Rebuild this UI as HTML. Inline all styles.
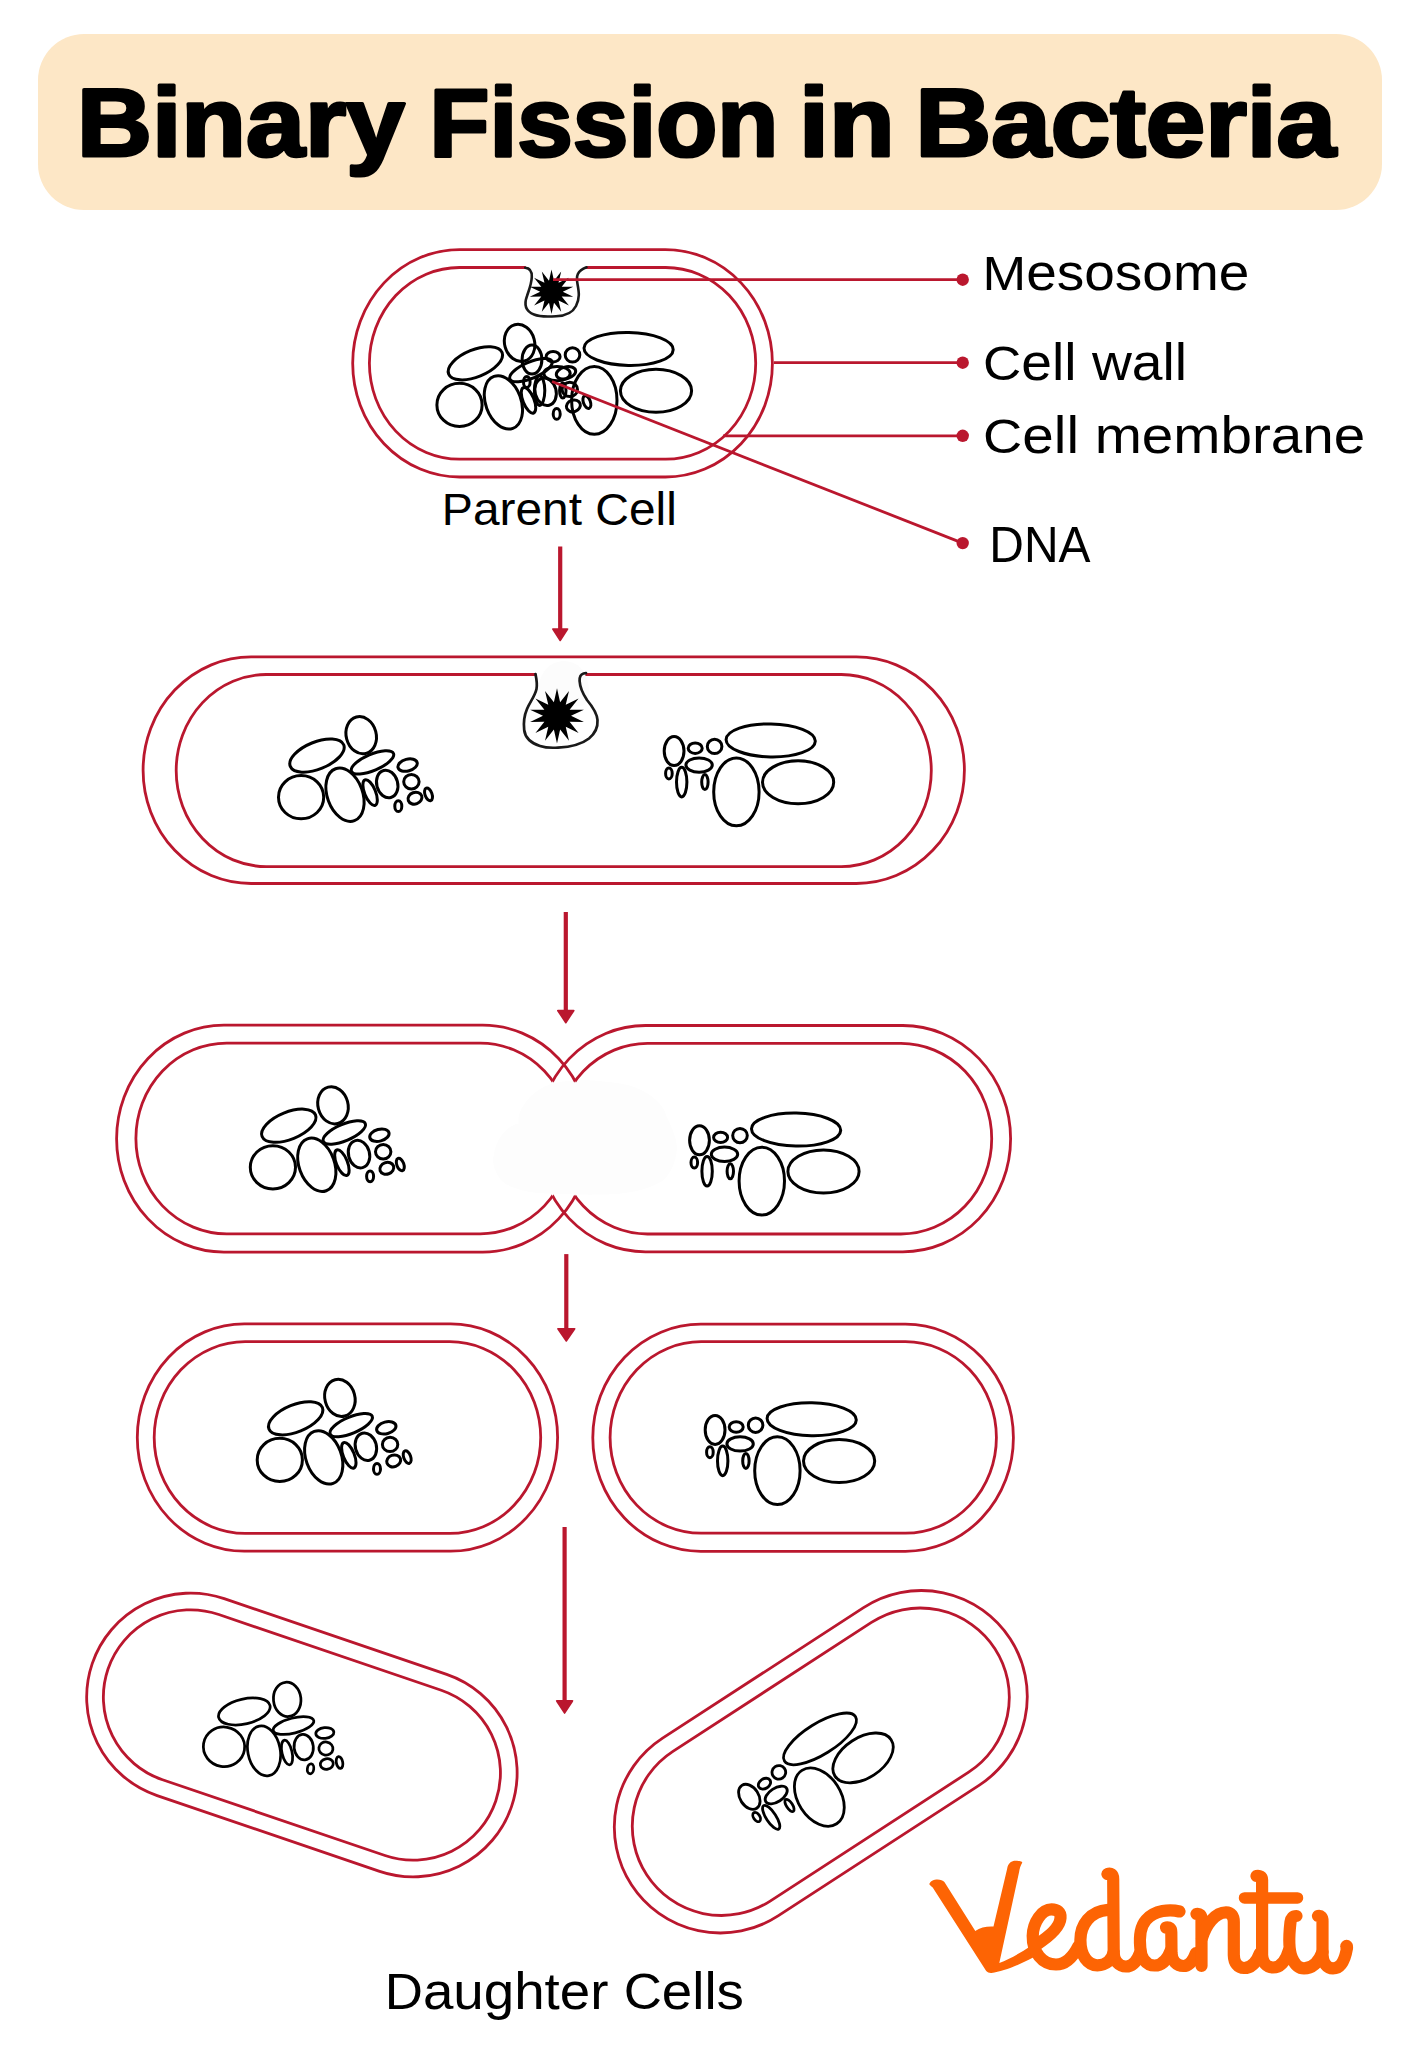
<!DOCTYPE html>
<html><head><meta charset="utf-8"><style>
html,body{margin:0;padding:0;background:#fff;overflow:hidden;}
svg{display:block;}
text{font-family:"Liberation Sans",sans-serif;}
</style></head><body>
<svg width="1421" height="2048" viewBox="0 0 1421 2048">
<rect width="1421" height="2048" fill="#fff"/>
<rect x="38" y="34" width="1344" height="176" rx="46" ry="46" fill="#FDE7C6"/>
<text x="77.0" y="155.6" font-family="Liberation Sans" font-weight="bold" font-size="97.5" lengthAdjust="spacingAndGlyphs" fill="#000" stroke="#000" stroke-width="3.2" stroke-linejoin="round" textLength="328.0"><tspan font-size="95.5">B</tspan>inary</text>
<text x="429.6" y="155.6" font-family="Liberation Sans" font-weight="bold" font-size="97.5" lengthAdjust="spacingAndGlyphs" fill="#000" stroke="#000" stroke-width="3.2" stroke-linejoin="round" textLength="348.8"><tspan font-size="95.5">F</tspan>ission</text>
<text x="799.0" y="155.6" font-family="Liberation Sans" font-weight="bold" font-size="97.5" lengthAdjust="spacingAndGlyphs" fill="#000" stroke="#000" stroke-width="3.2" stroke-linejoin="round" textLength="95.6">in</text>
<text x="915.6" y="155.6" font-family="Liberation Sans" font-weight="bold" font-size="97.5" lengthAdjust="spacingAndGlyphs" fill="#000" stroke="#000" stroke-width="3.2" stroke-linejoin="round" textLength="420.4"><tspan font-size="95.5">B</tspan>acteria</text>
<path d="M518.8,1123.5 C516,1112 530,1090 552.8,1083.6 C570,1079 590,1080 603,1081.4 C620,1083 632,1085 640,1089.6 C655,1097 664,1106 666.5,1116.2 C672,1128 677,1138 676.9,1148.7 C676,1163 670,1175 662.1,1181.2 C645,1191 625,1194 603,1194.5 C580,1195 555,1194 536.5,1193 C520,1191 505,1186 499.6,1178.2 C494,1170 492,1162 493.6,1156 C495,1145 500,1135 507,1129.5 C511,1126 515,1124 518.8,1123.5 Z" fill="#FDFDFD"/>
<path d="M538,700 C536,680 545,662 563,661 C581,661 590,676 589,695 C588,702 585,706 580,706 L545,706 C540,706 538,704 538,700 Z" fill="#FCFCFC"/>
<path d="M459.70,249.60 H665.40 A107.00,113.70 0 0 1 772.40,363.30 V363.30 A107.00,113.70 0 0 1 665.40,477.00 H459.70 A107.00,113.70 0 0 1 352.70,363.30 V363.30 A107.00,113.70 0 0 1 459.70,249.60 Z" fill="none" stroke="#BA172E" stroke-width="2.8"/>
<path d="M459.40,267.50 H665.70 A90.00,95.85 0 0 1 755.70,363.35 V363.35 A90.00,95.85 0 0 1 665.70,459.20 H459.40 A90.00,95.85 0 0 1 369.40,363.35 V363.35 A90.00,95.85 0 0 1 459.40,267.50 Z" fill="none" stroke="#BA172E" stroke-width="2.8" mask="url(#mParent)"/>
<path d="M525.2,267.7 C530,268 532,271 531.8,277 C531.5,284 529,290 527,296 C524,304 525,311 534,314.5 C541,317.5 548,316.5 556,316.3 C565,316 572,314 576,306 C580,298 579,292 577.5,284 C576,276 577,271 586.5,267.3" fill="none" stroke="#1a1a1a" stroke-width="2.6" stroke-linecap="round"/>
<polygon points="551.50,269.40 554.01,280.68 561.18,271.61 558.55,282.87 568.93,277.80 561.68,286.80 573.24,286.74 562.80,291.70 573.24,296.66 561.68,296.60 568.93,305.60 558.55,300.53 561.18,311.79 554.01,302.72 551.50,314.00 548.99,302.72 541.82,311.79 544.45,300.53 534.07,305.60 541.32,296.60 529.76,296.66 540.20,291.70 529.76,286.74 541.32,286.80 534.07,277.80 544.45,282.87 541.82,271.61 548.99,280.68" fill="#000"/>
<path d="M251.10,656.90 H856.40 A108.00,113.30 0 0 1 964.40,770.20 V770.20 A108.00,113.30 0 0 1 856.40,883.50 H251.10 A108.00,113.30 0 0 1 143.10,770.20 V770.20 A108.00,113.30 0 0 1 251.10,656.90 Z" fill="none" stroke="#BA172E" stroke-width="2.8"/>
<path d="M266.20,674.50 H841.30 A90.00,96.00 0 0 1 931.30,770.50 V770.60 A90.00,96.00 0 0 1 841.30,866.60 H266.20 A90.00,96.00 0 0 1 176.20,770.60 V770.50 A90.00,96.00 0 0 1 266.20,674.50 Z" fill="none" stroke="#BA172E" stroke-width="2.8" mask="url(#mRow2)"/>
<path d="M535.5,674 C536.5,679 537.5,684 536.5,689 C535,696 530,702 527,709 C524,716 523.5,724 524.2,730 C525,737 531,743 540,746 C546,748 552,748 558,747.6 C570,747 582,744 589,738.5 C595,733.5 598,727 597.5,720 C597,713 592,706 587,700 C583,694 580,688 579.6,681 C579.4,677 581,674.3 583.5,673.5 L586,673.2" fill="none" stroke="#1a1a1a" stroke-width="2.7" stroke-linecap="round"/>
<polygon points="557.00,688.20 560.12,702.15 568.98,690.93 565.73,704.85 578.58,698.59 569.61,709.73 583.91,709.66 571.00,715.80 583.91,721.94 569.61,721.87 578.58,733.01 565.73,726.75 568.98,740.67 560.12,729.45 557.00,743.40 553.88,729.45 545.02,740.67 548.27,726.75 535.42,733.01 544.39,721.87 530.09,721.94 543.00,715.80 530.09,709.66 544.39,709.73 535.42,698.59 548.27,704.85 545.02,690.93 553.88,702.15" fill="#000"/>
<defs>
<mask id="mLO" maskUnits="userSpaceOnUse" x="0" y="0" width="1421" height="2048"><rect width="1421" height="2048" fill="#fff"/><path d="M647.50,1043.40 H900.90 A90.80,95.30 0 0 1 991.70,1138.70 V1138.70 A90.80,95.30 0 0 1 900.90,1234.00 H647.50 A90.80,95.30 0 0 1 556.70,1138.70 V1138.70 A90.80,95.30 0 0 1 647.50,1043.40 Z" fill="#000"/></mask>
<mask id="mLI" maskUnits="userSpaceOnUse" x="0" y="0" width="1421" height="2048"><rect width="1421" height="2048" fill="#fff"/><path d="M645.50,1025.50 H902.80 A107.80,113.15 0 0 1 1010.60,1138.65 V1138.65 A107.80,113.15 0 0 1 902.80,1251.80 H645.50 A107.80,113.15 0 0 1 537.70,1138.65 V1138.65 A107.80,113.15 0 0 1 645.50,1025.50 Z" fill="#000"/></mask>
<mask id="mRO" maskUnits="userSpaceOnUse" x="0" y="0" width="1421" height="2048"><rect width="1421" height="2048" fill="#fff"/><path d="M226.70,1043.10 H480.20 A90.80,95.35 0 0 1 571.00,1138.45 V1138.45 A90.80,95.35 0 0 1 480.20,1233.80 H226.70 A90.80,95.35 0 0 1 135.90,1138.45 V1138.45 A90.80,95.35 0 0 1 226.70,1043.10 Z" fill="#000"/></mask>
<mask id="mRI" maskUnits="userSpaceOnUse" x="0" y="0" width="1421" height="2048"><rect width="1421" height="2048" fill="#fff"/><path d="M223.90,1025.20 H482.70 A107.30,113.45 0 0 1 590.00,1138.65 V1138.65 A107.30,113.45 0 0 1 482.70,1252.10 H223.90 A107.30,113.45 0 0 1 116.60,1138.65 V1138.65 A107.30,113.45 0 0 1 223.90,1025.20 Z" fill="#000"/></mask>
<mask id="mParent" maskUnits="userSpaceOnUse" x="0" y="0" width="1421" height="2048"><rect width="1421" height="2048" fill="#fff"/><rect x="525.8" y="255" width="60.2" height="20" fill="#000"/></mask>
<mask id="mRow2" maskUnits="userSpaceOnUse" x="0" y="0" width="1421" height="2048"><rect width="1421" height="2048" fill="#fff"/><rect x="536.2" y="664" width="49.2" height="20" fill="#000"/></mask>
</defs>
<path d="M223.90,1025.20 H482.70 A107.30,113.45 0 0 1 590.00,1138.65 V1138.65 A107.30,113.45 0 0 1 482.70,1252.10 H223.90 A107.30,113.45 0 0 1 116.60,1138.65 V1138.65 A107.30,113.45 0 0 1 223.90,1025.20 Z" fill="none" stroke="#BA172E" stroke-width="2.8" mask="url(#mLO)"/>
<path d="M226.70,1043.10 H480.20 A90.80,95.35 0 0 1 571.00,1138.45 V1138.45 A90.80,95.35 0 0 1 480.20,1233.80 H226.70 A90.80,95.35 0 0 1 135.90,1138.45 V1138.45 A90.80,95.35 0 0 1 226.70,1043.10 Z" fill="none" stroke="#BA172E" stroke-width="2.8" mask="url(#mLI)"/>
<path d="M645.50,1025.50 H902.80 A107.80,113.15 0 0 1 1010.60,1138.65 V1138.65 A107.80,113.15 0 0 1 902.80,1251.80 H645.50 A107.80,113.15 0 0 1 537.70,1138.65 V1138.65 A107.80,113.15 0 0 1 645.50,1025.50 Z" fill="none" stroke="#BA172E" stroke-width="2.8" mask="url(#mRO)"/>
<path d="M647.50,1043.40 H900.90 A90.80,95.30 0 0 1 991.70,1138.70 V1138.70 A90.80,95.30 0 0 1 900.90,1234.00 H647.50 A90.80,95.30 0 0 1 556.70,1138.70 V1138.70 A90.80,95.30 0 0 1 647.50,1043.40 Z" fill="none" stroke="#BA172E" stroke-width="2.8" mask="url(#mRI)"/>
<path d="M244.30,1323.90 H450.60 A107.00,113.65 0 0 1 557.60,1437.55 V1437.55 A107.00,113.65 0 0 1 450.60,1551.20 H244.30 A107.00,113.65 0 0 1 137.30,1437.55 V1437.55 A107.00,113.65 0 0 1 244.30,1323.90 Z" fill="none" stroke="#BA172E" stroke-width="2.8"/>
<path d="M245.20,1341.70 H449.70 A91.00,95.85 0 0 1 540.70,1437.55 V1437.55 A91.00,95.85 0 0 1 449.70,1533.40 H245.20 A91.00,95.85 0 0 1 154.20,1437.55 V1437.55 A91.00,95.85 0 0 1 245.20,1341.70 Z" fill="none" stroke="#BA172E" stroke-width="2.8"/>
<path d="M700.80,1324.20 H905.40 A108.00,113.55 0 0 1 1013.40,1437.75 V1437.75 A108.00,113.55 0 0 1 905.40,1551.30 H700.80 A108.00,113.55 0 0 1 592.80,1437.75 V1437.75 A108.00,113.55 0 0 1 700.80,1324.20 Z" fill="none" stroke="#BA172E" stroke-width="2.8"/>
<path d="M701.10,1341.70 H905.40 A91.00,95.75 0 0 1 996.40,1437.45 V1437.45 A91.00,95.75 0 0 1 905.40,1533.20 H701.10 A91.00,95.75 0 0 1 610.10,1437.45 V1437.45 A91.00,95.75 0 0 1 701.10,1341.70 Z" fill="none" stroke="#BA172E" stroke-width="2.8"/>
<g transform="translate(301.9 1735) rotate(18.8)"><path d="M-117.50,-104.00 H117.50 A104.00,104.00 0 0 1 221.50,0.00 V0.00 A104.00,104.00 0 0 1 117.50,104.00 H-117.50 A104.00,104.00 0 0 1 -221.50,0.00 V0.00 A104.00,104.00 0 0 1 -117.50,-104.00 Z" fill="none" stroke="#BA172E" stroke-width="2.8"/><path d="M-117.50,-87.30 H117.50 A87.30,87.30 0 0 1 204.80,0.00 V0.00 A87.30,87.30 0 0 1 117.50,87.30 H-117.50 A87.30,87.30 0 0 1 -204.80,0.00 V0.00 A87.30,87.30 0 0 1 -117.50,-87.30 Z" fill="none" stroke="#BA172E" stroke-width="2.8"/></g>
<g transform="translate(820.8 1761.75) rotate(-33)"><path d="M-119.80,-106.00 H119.80 A106.00,106.00 0 0 1 225.80,0.00 V0.00 A106.00,106.00 0 0 1 119.80,106.00 H-119.80 A106.00,106.00 0 0 1 -225.80,0.00 V0.00 A106.00,106.00 0 0 1 -119.80,-106.00 Z" fill="none" stroke="#BA172E" stroke-width="2.8"/><path d="M-118.35,-89.25 H118.35 A89.25,89.25 0 0 1 207.60,0.00 V0.00 A89.25,89.25 0 0 1 118.35,89.25 H-118.35 A89.25,89.25 0 0 1 -207.60,0.00 V0.00 A89.25,89.25 0 0 1 -118.35,-89.25 Z" fill="none" stroke="#BA172E" stroke-width="2.8"/></g>
<defs><g id="Lc"><ellipse cx="301.1" cy="797.2" rx="22.6" ry="21.6"/>
<ellipse cx="317.0" cy="755.6" rx="28.8" ry="13.6" transform="rotate(-22 317.0 755.6)"/>
<ellipse cx="361.2" cy="735.2" rx="15.0" ry="18.8" transform="rotate(-15 361.2 735.2)"/>
<ellipse cx="345.0" cy="794.7" rx="17.7" ry="27.6" transform="rotate(-20 345.0 794.7)"/>
<ellipse cx="372.5" cy="762.4" rx="22.8" ry="8.2" transform="rotate(-23 372.5 762.4)"/>
<ellipse cx="370.1" cy="792.6" rx="5.5" ry="13.7" transform="rotate(-22 370.1 792.6)"/>
<ellipse cx="387.2" cy="784.0" rx="10.5" ry="14.0" transform="rotate(-15 387.2 784.0)"/>
<ellipse cx="407.6" cy="765.1" rx="9.9" ry="5.9" transform="rotate(-15 407.6 765.1)"/>
<ellipse cx="411.4" cy="781.7" rx="7.7" ry="7.2"/>
<ellipse cx="415.0" cy="798.2" rx="7.1" ry="5.8" transform="rotate(-20 415.0 798.2)"/>
<ellipse cx="428.5" cy="794.4" rx="3.5" ry="6.6" transform="rotate(-20 428.5 794.4)"/>
<ellipse cx="398.3" cy="806.2" rx="3.5" ry="5.4"/></g><g id="Rc"><ellipse cx="770.7" cy="740.4" rx="44.6" ry="16.5" transform="rotate(1 770.7 740.4)"/>
<ellipse cx="798.1" cy="782.3" rx="35.6" ry="21.5"/>
<ellipse cx="736.4" cy="791.9" rx="22.7" ry="33.9"/>
<ellipse cx="674.1" cy="751.1" rx="9.9" ry="14.5"/>
<ellipse cx="695.2" cy="748.2" rx="7.0" ry="5.2"/>
<ellipse cx="714.6" cy="746.4" rx="7.3" ry="7.2"/>
<ellipse cx="699.1" cy="765.1" rx="13.2" ry="7.2"/>
<ellipse cx="668.9" cy="773.4" rx="3.3" ry="5.5"/>
<ellipse cx="681.7" cy="782.1" rx="5.2" ry="14.8"/>
<ellipse cx="704.9" cy="782.1" rx="3.2" ry="7.5"/></g></defs>
<g fill="none" stroke="#000" stroke-width="3.0"><use href="#Lc" transform="translate(158.4 -392.3)"/>
<use href="#Rc" transform="translate(-142.1 -391.5)"/>
<use href="#Lc" transform=""/>
<use href="#Rc" transform=""/>
<use href="#Lc" transform="translate(-28.2 370.1)"/>
<use href="#Rc" transform="translate(25.4 389.2)"/>
<use href="#Lc" transform="translate(-21.3 662.7)"/>
<use href="#Rc" transform="translate(41 678.8)"/>
<use href="#Lc" transform="translate(224 1746.8) rotate(9) scale(0.915) translate(-301.1 -797.2)"/>
<use href="#Rc" transform="translate(820 1738.9) rotate(-33) scale(0.94) translate(-770.7 -740.4)"/></g>
<line x1="553" y1="279.7" x2="962.7" y2="279.7" stroke="#BA172E" stroke-width="2.8"/>
<line x1="774" y1="362.7" x2="962.7" y2="362.7" stroke="#BA172E" stroke-width="2.8"/>
<line x1="723" y1="435.8" x2="962.7" y2="435.8" stroke="#BA172E" stroke-width="2.8"/>
<line x1="552" y1="381.5" x2="962.7" y2="543.1" stroke="#BA172E" stroke-width="2.8"/>
<circle cx="962.7" cy="279.7" r="6.2" fill="#BA172E"/>
<circle cx="962.7" cy="362.7" r="6.2" fill="#BA172E"/>
<circle cx="962.7" cy="435.8" r="6.2" fill="#BA172E"/>
<circle cx="962.7" cy="543.1" r="6.2" fill="#BA172E"/>
<text x="982.60" y="290.3" font-family="Liberation Sans" font-size="51.1" textLength="266.70" lengthAdjust="spacingAndGlyphs" fill="#000"><tspan font-size="48.7">M</tspan>esosome</text>
<text x="983.10" y="380.0" font-family="Liberation Sans" font-size="51.1" textLength="204.00" lengthAdjust="spacingAndGlyphs" fill="#000"><tspan font-size="49.0">C</tspan>ell wall</text>
<text x="983.10" y="453.2" font-family="Liberation Sans" font-size="51.1" textLength="382.20" lengthAdjust="spacingAndGlyphs" fill="#000"><tspan font-size="49.0">C</tspan>ell membrane</text>
<text x="989.30" y="562.3" font-family="Liberation Sans" font-size="51.1" textLength="101.30" lengthAdjust="spacingAndGlyphs" fill="#000"><tspan font-size="49.1">D</tspan><tspan font-size="49.1">N</tspan><tspan font-size="49.1">A</tspan></text>
<text x="441.80" y="525.1" font-family="Liberation Sans" font-size="45.3" textLength="235.00" lengthAdjust="spacingAndGlyphs" fill="#000"><tspan font-size="44.2">P</tspan>arent <tspan font-size="44.2">C</tspan>ell</text>
<text x="384.70" y="2008.75" font-family="Liberation Sans" font-size="50.9" textLength="359.30" lengthAdjust="spacingAndGlyphs" fill="#000"><tspan font-size="49.2">D</tspan>aughter <tspan font-size="49.2">C</tspan>ells</text>
<line x1="560.2" y1="546.5" x2="560.2" y2="629.2" stroke="#BA172E" stroke-width="4.2"/><path d="M552.9000000000001,628.2 L567.5,628.2 Q569.2,628.2 568.1,629.8000000000001 L561.0,640.7 Q560.2,641.9 559.4000000000001,640.7 L552.3000000000001,629.8000000000001 Q551.2,628.2 552.9000000000001,628.2 Z" fill="#BA172E"/>
<line x1="565.8" y1="912" x2="565.8" y2="1010.8" stroke="#BA172E" stroke-width="4.2"/><path d="M558.0,1009.8 L573.5999999999999,1009.8 Q575.3,1009.8 574.1999999999999,1011.4 L566.5999999999999,1022.9000000000001 Q565.8,1024.1000000000001 565.0,1022.9000000000001 L557.4,1011.4 Q556.3,1009.8 558.0,1009.8 Z" fill="#BA172E"/>
<line x1="566.3" y1="1254.1" x2="566.3" y2="1329" stroke="#BA172E" stroke-width="4.2"/><path d="M558.0,1328 L574.5999999999999,1328 Q576.3,1328 575.1999999999999,1329.6 L567.0999999999999,1341.2 Q566.3,1342.4 565.5,1341.2 L557.4,1329.6 Q556.3,1328 558.0,1328 Z" fill="#BA172E"/>
<line x1="564.6" y1="1527" x2="564.6" y2="1701.1" stroke="#BA172E" stroke-width="4.2"/><path d="M556.8000000000001,1700.1 L572.4,1700.1 Q574.1,1700.1 573.0,1701.6999999999998 L565.4,1713.3 Q564.6,1714.5 563.8000000000001,1713.3 L556.2,1701.6999999999998 Q555.1,1700.1 556.8000000000001,1700.1 Z" fill="#BA172E"/>
<path d="M929.3,1884 C931,1880.5 934,1879.6 937.4,1879.6 C940.5,1879.6 943,1880.5 944.4,1882.1 L975.3,1930.9 C980,1927.5 987,1926.2 993.5,1926.6 L1007.1,1868.9 C1008.2,1863 1011.5,1860.8 1015.6,1860.8 C1019,1860.8 1022.5,1861.5 1022.2,1862.7 C1020.5,1865.5 1019.5,1869 1019.1,1872 L999.3,1963 C1009,1959.5 1020,1953 1030,1946.5 L1036,1942.5 L1041,1953 C1025,1962.5 1005,1971.5 991.6,1973 C989.5,1973.2 987.5,1972.5 986.2,1971.1 L932.7,1887.5 C931,1886 929.5,1885 929.3,1884 Z" fill="#FD6404"/>
<g fill="none" stroke="#FD6404" stroke-width="12.2" stroke-linecap="round" stroke-linejoin="round">
<path d="M1034,1946.5 C1036,1945 1036,1945 1036,1945 C1050,1936 1060,1927 1060.5,1918 C1061,1912 1057,1909.4 1051.5,1909.4 C1042,1909.4 1033,1922 1032.7,1936 C1032.5,1952 1042,1964.5 1056,1964.5 C1066,1964.5 1073,1957 1078.5,1946"/>
<path d="M1108,1909.8 C1090,1911 1080.4,1925 1080.4,1940 C1080.4,1956 1088,1965.3 1097.4,1965.3 C1106,1965.3 1112,1960 1113.7,1952"/>
<path d="M1107.5,1874 C1110.5,1873 1113.2,1874 1113.2,1879 L1113.7,1953 C1114,1961 1119,1966.5 1126,1966.5 C1133,1966.5 1137,1961 1140,1953"/>
<path d="M1179.5,1911.5 C1170,1909 1155,1910 1146,1920 C1139,1928 1139.5,1940 1140.3,1948 C1141,1958 1146,1965.5 1154.6,1965.5 C1163,1965.5 1168,1958 1171,1950"/>
<path d="M1166,1927.5 C1169.5,1927 1171.3,1928.5 1171.3,1932 L1171.5,1953 C1172,1961 1177,1966 1183.3,1966 C1189,1966 1193,1961 1196,1953"/>
<path d="M1196.5,1914 C1199.5,1913.5 1201.5,1915 1201.5,1919 L1201.5,1966"/>
<path d="M1202,1938 C1206,1925 1215,1912.3 1226,1912.3 C1231,1912.3 1233.8,1916 1233.8,1922 L1233.8,1955 C1234,1963 1238,1968 1244,1968 C1252,1968 1257,1961 1260,1953"/>
<path d="M1256.5,1876 C1259.5,1875.5 1262.1,1876.5 1262.1,1880 L1262.1,1955 C1262.5,1963 1267,1967.5 1273,1967.5 C1281,1967.5 1286,1960 1289,1950"/>
<path d="M1244.5,1897.9 L1297.5,1897.9" stroke-width="11.5"/>
<path d="M1296.5,1916 C1293,1916 1291,1918 1290.5,1922 C1289,1935 1288.5,1950 1292,1958 C1295,1965 1299,1968.4 1304,1968.4 C1313,1968.4 1319,1961 1322.5,1952"/>
<path d="M1318,1916 C1321,1915.5 1322.5,1917 1322.5,1921 L1322.5,1955 C1323,1963 1327,1968.4 1333,1968.4 C1341,1968.4 1345,1960 1347,1948"/>
</g>
<circle cx="1346.6" cy="1946.2" r="6.4" fill="#FD6404"/>
</svg>
</body></html>
